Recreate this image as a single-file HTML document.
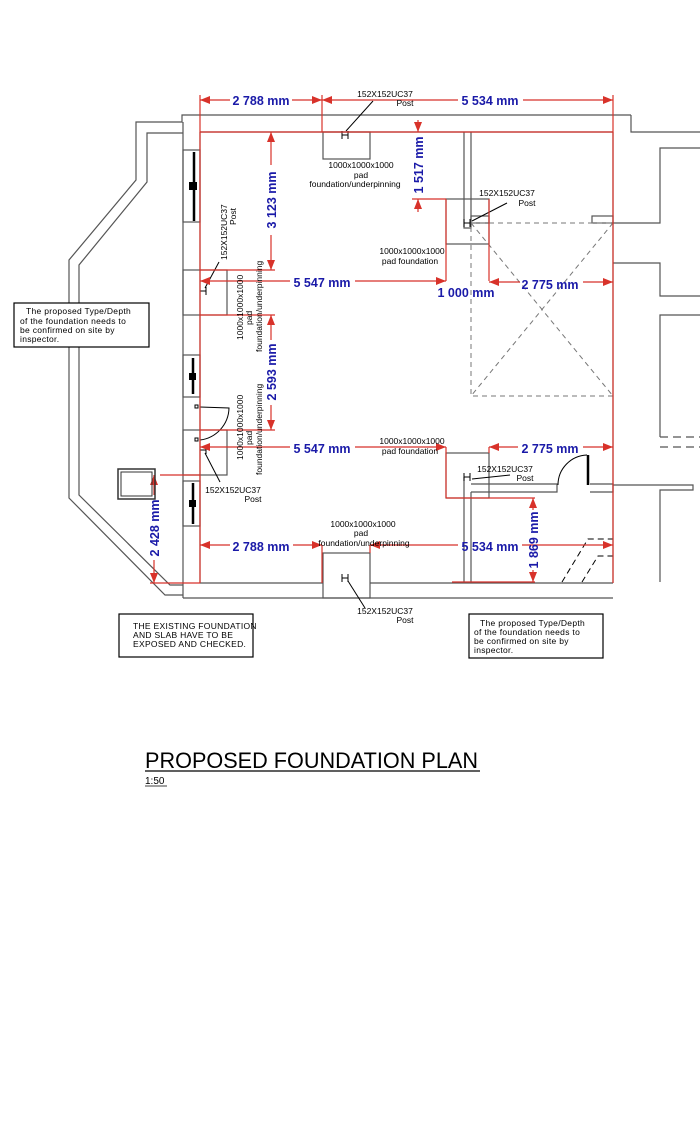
<!DOCTYPE html>
<html><head><meta charset="utf-8"><style>
html,body{margin:0;padding:0;background:#fff;}
svg{display:block;}
.w{stroke:#555;stroke-width:1.2;fill:none;}
.k{stroke:#000;stroke-width:1;fill:none;}
.r{stroke:#d8322a;stroke-width:1.2;fill:none;}
.dim{fill:#1a1aa8;font-family:"Liberation Sans",sans-serif;font-weight:bold;font-size:12.5px;}
.lab{fill:#000;font-family:"Liberation Sans",sans-serif;font-size:8.5px;}
.note{fill:#000;font-family:"Liberation Sans",sans-serif;font-size:8.5px;letter-spacing:0.3px;}
.ar{fill:#d8322a;}
</style></head><body>
<svg width="700" height="1134" viewBox="0 0 700 1134" xmlns="http://www.w3.org/2000/svg">
<polyline class="w" points="631,115 182,115 182,122 136,122 136,180 69,260 69,498 165,595 183,595"/>
<polyline class="w" points="631,115 631,132 700,132"/>
<polyline class="w" points="613,132 200,132"/>
<polyline class="w" points="183,133 147,133 147,182 79,265 79,495 170,585 183,585"/>
<line class="w" x1="183" y1="122" x2="183" y2="598"/>
<line class="w" x1="200" y1="132" x2="200" y2="583"/>
<line class="w" x1="183" y1="598" x2="613" y2="598"/>
<line class="w" x1="200" y1="583" x2="323" y2="583"/>
<line class="w" x1="370" y1="583" x2="613" y2="583"/>
<line class="w" x1="613" y1="132" x2="613" y2="583"/>
<polyline class="w" points="700,148 660,148 660,223 613,223"/>
<polyline class="w" points="613,263 660,263 660,296 700,296"/>
<polyline class="w" points="700,315 660,315 660,437"/>
<line class="w" x1="660" y1="437" x2="700" y2="437" stroke-dasharray="8,5"/>
<line class="w" x1="660" y1="447" x2="700" y2="447" stroke-dasharray="8,5"/>
<polyline class="w" points="613,485 693,485 693,490 660,490 660,582"/>
<rect class="w" x="183" y="150" width="17" height="72"/>
<line x1="194" y1="152" x2="194" y2="221" stroke="#000" stroke-width="2.5"/>
<rect x="189" y="182" width="8" height="8" fill="#000"/>
<rect class="w" x="183" y="355" width="17" height="42"/>
<line x1="193" y1="358" x2="193" y2="394" stroke="#000" stroke-width="2.5"/>
<rect x="189" y="373" width="7" height="7" fill="#000"/>
<rect class="w" x="183" y="481" width="17" height="45"/>
<line x1="193" y1="483" x2="193" y2="524" stroke="#000" stroke-width="2.5"/>
<rect x="189" y="500" width="7" height="7" fill="#000"/>
<line class="k" x1="200" y1="407" x2="200" y2="440"/>
<path class="k" d="M200,440 A33,33 0 0 0 229,408 L200,407"/>
<rect class="k" x="195" y="405" width="3" height="3"/>
<rect class="k" x="195" y="438" width="3" height="3"/>
<rect class="w" x="323" y="132" width="47" height="27"/>
<rect class="w" x="183" y="270" width="44" height="45"/>
<rect class="w" x="183" y="430" width="44" height="45"/>
<rect class="w" x="323" y="553" width="47" height="45"/>
<rect class="w" x="446" y="199" width="43" height="45"/>
<rect class="w" x="446" y="453" width="43" height="45"/>
<polyline class="w" points="464,132 464,228 471,228 471,132"/>
<rect class="w" x="471" y="216" width="18" height="7"/>
<rect class="w" x="592" y="216" width="21" height="7"/>
<rect x="471" y="223" width="142" height="173" fill="none" stroke="#777" stroke-dasharray="5,4"/>
<line x1="471" y1="223" x2="613" y2="396" stroke="#777" stroke-dasharray="5,4"/>
<line x1="613" y1="223" x2="471" y2="396" stroke="#777" stroke-dasharray="5,4"/>
<line class="w" x1="464" y1="477" x2="464" y2="582"/>
<line class="w" x1="471" y1="492" x2="471" y2="582"/>
<polyline class="w" points="471,484 557,484 557,492 471,492"/>
<polyline class="w" points="590,484 613,484 613,492 590,492"/>
<line x1="588" y1="455" x2="588" y2="485" stroke="#000" stroke-width="2.5"/>
<path class="k" d="M558,485 A30,30 0 0 1 587,455"/>
<polyline class="k" points="562,582 588,539 613,539" stroke-dasharray="6,4"/>
<polyline class="k" points="582,582 598,556 613,556" stroke-dasharray="6,4"/>
<g class="k" stroke-width="1.5">
<path d="M342,131v8M348,131v8M342,135h6"/>
<path d="M200,287v8M206,287v8M200,291h6"/>
<path d="M200,446v8M206,446v8M200,450h6"/>
<path d="M342,574v8M348,574v8M342,578h6"/>
<path d="M464,219v8M470,219v8M464,223h6"/>
<path d="M464,473v8M470,473v8M464,477h6"/>
</g>
<line class="k" x1="346" y1="131" x2="373" y2="101"/>
<line class="k" x1="472" y1="221" x2="507" y2="203"/>
<line class="k" x1="472" y1="479" x2="510" y2="475"/>
<line class="k" x1="205" y1="288" x2="219" y2="262"/>
<line class="k" x1="205" y1="453" x2="220" y2="482"/>
<line class="k" x1="348" y1="581" x2="365" y2="608"/>
<g class="r">
<line x1="200" y1="95" x2="200" y2="583"/>
<line x1="322" y1="95" x2="322" y2="132"/>
<line x1="613" y1="95" x2="613" y2="583"/>
<line x1="200" y1="100" x2="230" y2="100"/><line x1="292" y1="100" x2="322" y2="100"/>
<line x1="322" y1="100" x2="458" y2="100"/><line x1="523" y1="100" x2="613" y2="100"/>
<line x1="200" y1="132" x2="613" y2="132"/>
<line x1="271" y1="132" x2="271" y2="165"/><line x1="271" y1="235" x2="271" y2="270"/>
<line x1="200" y1="270" x2="275" y2="270"/><line x1="200" y1="315" x2="275" y2="315"/>
<line x1="200" y1="281" x2="290" y2="281"/><line x1="355" y1="281" x2="446" y2="281"/>
<line x1="446" y1="199" x2="446" y2="281"/><line x1="489" y1="199" x2="489" y2="281"/>
<line x1="412" y1="199" x2="446" y2="199"/>
<line x1="418" y1="120" x2="418" y2="132"/><line x1="418" y1="199" x2="418" y2="212"/>
<line x1="489" y1="282" x2="520" y2="282"/><line x1="583" y1="282" x2="613" y2="282"/>
<line x1="271" y1="315" x2="271" y2="340"/><line x1="271" y1="405" x2="271" y2="430"/>
<line x1="200" y1="430" x2="275" y2="430"/><line x1="200" y1="475" x2="160" y2="475"/>
<line x1="200" y1="447" x2="290" y2="447"/><line x1="355" y1="447" x2="446" y2="447"/>
<line x1="446" y1="447" x2="446" y2="498"/><line x1="489" y1="447" x2="489" y2="453"/>
<line x1="489" y1="447" x2="518" y2="447"/><line x1="583" y1="447" x2="613" y2="447"/>
<line x1="446" y1="498" x2="535" y2="498"/>
<line x1="154" y1="475" x2="154" y2="495"/><line x1="154" y1="560" x2="154" y2="583"/>
<line x1="150" y1="583" x2="200" y2="583"/>
<line x1="200" y1="545" x2="230" y2="545"/><line x1="293" y1="545" x2="322" y2="545"/>
<line x1="322" y1="545" x2="322" y2="583"/><line x1="370" y1="545" x2="458" y2="545"/>
<line x1="370" y1="545" x2="370" y2="553"/><line x1="522" y1="545" x2="613" y2="545"/>
<line x1="533" y1="498" x2="533" y2="510"/><line x1="533" y1="570" x2="533" y2="582"/>
<line x1="452" y1="582" x2="535" y2="582"/>
</g>
<g class="ar">
<path d="M200,100l10,-4v8z"/><path d="M322,100l-10,-4v8z"/>
<path d="M322,100l10,-4v8z"/><path d="M613,100l-10,-4v8z"/>
<path d="M271,132l-4,10h8z"/><path d="M271,270l-4,-10h8z"/>
<path d="M418,132l-4,-10h8z"/><path d="M418,199l-4,10h8z"/>
<path d="M200,281l10,-4v8z"/><path d="M446,281l-10,-4v8z"/>
<path d="M489,282l10,-4v8z"/><path d="M613,282l-10,-4v8z"/>
<path d="M271,315l-4,10h8z"/><path d="M271,430l-4,-10h8z"/>
<path d="M200,447l10,-4v8z"/><path d="M446,447l-10,-4v8z"/>
<path d="M489,447l10,-4v8z"/><path d="M613,447l-10,-4v8z"/>
<path d="M154,475l-4,10h8z"/><path d="M154,583l-4,-10h8z"/>
<path d="M200,545l10,-4v8z"/><path d="M322,545l-10,-4v8z"/>
<path d="M370,545l10,-4v8z"/><path d="M613,545l-10,-4v8z"/>
<path d="M533,498l-4,10h8z"/><path d="M533,582l-4,-10h8z"/>
</g>
<text class="dim" x="261" y="105" text-anchor="middle">2 788 mm</text>
<text class="dim" x="490" y="105" text-anchor="middle">5 534 mm</text>
<text class="dim" x="322" y="287" text-anchor="middle">5 547 mm</text>
<text class="dim" x="466" y="297" text-anchor="middle">1 000 mm</text>
<text class="dim" x="550" y="289" text-anchor="middle">2 775 mm</text>
<text class="dim" x="322" y="453" text-anchor="middle">5 547 mm</text>
<text class="dim" x="550" y="453" text-anchor="middle">2 775 mm</text>
<text class="dim" x="261" y="551" text-anchor="middle">2 788 mm</text>
<text class="dim" x="490" y="551" text-anchor="middle">5 534 mm</text>
<text class="dim" transform="translate(276,200) rotate(-90)" text-anchor="middle">3 123 mm</text>
<text class="dim" transform="translate(423,165) rotate(-90)" text-anchor="middle">1 517 mm</text>
<text class="dim" transform="translate(276,372) rotate(-90)" text-anchor="middle">2 593 mm</text>
<text class="dim" transform="translate(159,528) rotate(-90)" text-anchor="middle">2 428 mm</text>
<text class="dim" transform="translate(538,540) rotate(-90)" text-anchor="middle">1 869 mm</text>
<text class="lab" x="385" y="97" text-anchor="middle">152X152UC37</text>
<text class="lab" x="405" y="106" text-anchor="middle">Post</text>
<text class="lab" x="361" y="168" text-anchor="middle">1000x1000x1000</text>
<text class="lab" x="361" y="178" text-anchor="middle">pad</text>
<text class="lab" x="355" y="187" text-anchor="middle">foundation/underpinning</text>
<text class="lab" x="507" y="196" text-anchor="middle">152X152UC37</text>
<text class="lab" x="527" y="206" text-anchor="middle">Post</text>
<text class="lab" x="412" y="254" text-anchor="middle">1000x1000x1000</text>
<text class="lab" x="410" y="264" text-anchor="middle">pad  foundation</text>
<text class="lab" x="412" y="444" text-anchor="middle">1000x1000x1000</text>
<text class="lab" x="410" y="454" text-anchor="middle">pad  foundation</text>
<text class="lab" x="505" y="472" text-anchor="middle">152X152UC37</text>
<text class="lab" x="525" y="481" text-anchor="middle">Post</text>
<text class="lab" x="363" y="527" text-anchor="middle">1000x1000x1000</text>
<text class="lab" x="361" y="536" text-anchor="middle">pad</text>
<text class="lab" x="364" y="546" text-anchor="middle">foundation/underpinning</text>
<text class="lab" x="385" y="614" text-anchor="middle">152X152UC37</text>
<text class="lab" x="405" y="623" text-anchor="middle">Post</text>
<text class="lab" x="233" y="493" text-anchor="middle">152X152UC37</text>
<text class="lab" x="253" y="502" text-anchor="middle">Post</text>
<text class="lab" transform="translate(227,260) rotate(-90)">152X152UC37</text>
<text class="lab" transform="translate(236,225) rotate(-90)">Post</text>
<text class="lab" transform="translate(243,340) rotate(-90)">1000x1000x1000</text>
<text class="lab" transform="translate(252,325) rotate(-90)">pad</text>
<text class="lab" transform="translate(262,352) rotate(-90)">foundation/underpinning</text>
<text class="lab" transform="translate(243,460) rotate(-90)">1000x1000x1000</text>
<text class="lab" transform="translate(252,445) rotate(-90)">pad</text>
<text class="lab" transform="translate(262,475) rotate(-90)">foundation/underpinning</text>
<rect x="118" y="469" width="37" height="30" fill="none" stroke="#333" stroke-width="1.5"/>
<rect x="121" y="472" width="31" height="24" fill="none" stroke="#333" stroke-width="1"/>
<rect x="14" y="303" width="135" height="44" fill="#fff" stroke="#000" stroke-width="1.2"/>
<text class="note" x="26" y="314">The proposed Type/Depth</text>
<text class="note" x="20" y="324">of the foundation needs to</text>
<text class="note" x="20" y="333">be confirmed on site by</text>
<text class="note" x="20" y="342">inspector.</text>
<rect x="119" y="614" width="134" height="43" fill="#fff" stroke="#000" stroke-width="1.2"/>
<text class="note" x="133" y="629">THE EXISTING FOUNDATION</text>
<text class="note" x="133" y="638">AND SLAB HAVE TO BE</text>
<text class="note" x="133" y="647">EXPOSED AND CHECKED.</text>
<rect x="469" y="614" width="134" height="44" fill="#fff" stroke="#000" stroke-width="1.2"/>
<text class="note" x="480" y="626">The proposed Type/Depth</text>
<text class="note" x="474" y="635">of the foundation needs to</text>
<text class="note" x="474" y="644">be confirmed on site by</text>
<text class="note" x="474" y="653">inspector.</text>
<text x="145" y="768" font-family="Liberation Sans, sans-serif" font-size="22" fill="#000" textLength="333" lengthAdjust="spacingAndGlyphs">PROPOSED FOUNDATION PLAN</text>
<line x1="145" y1="771" x2="480" y2="771" stroke="#000" stroke-width="1.2"/>
<text x="145" y="784" font-family="Liberation Sans, sans-serif" font-size="10" fill="#000">1:50</text>
<line x1="145" y1="786" x2="167" y2="786" stroke="#000" stroke-width="0.8"/>
</svg>
</body></html>
